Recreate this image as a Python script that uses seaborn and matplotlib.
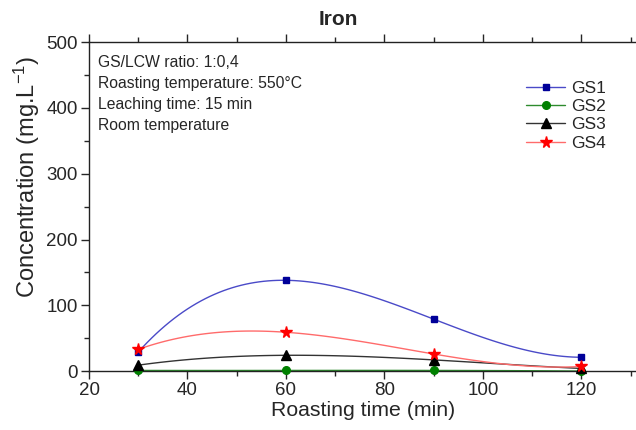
import matplotlib
matplotlib.use("Agg")
import matplotlib.pyplot as plt
import seaborn as sns
import pandas as pd
from matplotlib.lines import Line2D
from matplotlib.ticker import MultipleLocator

# -------------------------------
# Data
# -------------------------------
roasting_time = [30, 60, 90, 120]
gs1 = [29, 138, 79, 21]
gs2 = [1, 1, 1, 0]
gs3 = [9, 24, 17, 4]
gs4 = [33, 59, 26, 7]

series_names = ["GS1", "GS2", "GS3", "GS4"]
series_values = [gs1, gs2, gs3, gs4]

notes = [
    "GS/LCW ratio: 1:0,4",
    "Roasting temperature: 550°C",
    "Leaching time: 15 min",
    "Room temperature",
]

# -------------------------------
# Styles
# -------------------------------
marker_colors = ["#000099", "#008000", "#000000", "#ff0000"]
line_colors = ["#4a4ac8", "#2e8b2e", "#333333", "#ff6b6b"]
markers = ["s", "o", "^", "*"]
marker_sizes = [5, 5.5, 6.5, 8.5]

sns.set_style("ticks")
plt.rcParams["font.family"] = ["Liberation Sans", "DejaVu Sans"]
plt.rcParams["mathtext.default"] = "regular"

fig = plt.figure(figsize=(6.36, 4.3), dpi=100)
ax = fig.add_axes([0.14, 0.137, 0.863, 0.765])

for name, vals, mc, lc, mk, ms in zip(series_names, series_values,
                                      marker_colors, line_colors,
                                      markers, marker_sizes):
    df = pd.DataFrame({"time": roasting_time, "conc": vals})
    # smooth curve through the measurements
    sns.regplot(data=df, x="time", y="conc", order=3, ci=None,
                scatter=False, ax=ax,
                line_kws={"color": lc, "lw": 1.0})
    # measured points
    ax.plot(df["time"], df["conc"], linestyle="none", marker=mk,
            color=mc, markersize=ms, zorder=5, clip_on=False)

# -------------------------------
# Axes
# -------------------------------
ax.set_xlim(20, 131.5)
ax.set_ylim(0, 500)
ax.xaxis.set_major_locator(MultipleLocator(20))
ax.xaxis.set_minor_locator(MultipleLocator(10))
ax.yaxis.set_major_locator(MultipleLocator(100))
ax.yaxis.set_minor_locator(MultipleLocator(50))

ax.tick_params(axis="both", which="major", labelsize=13.5, length=6,
               width=1, direction="out", top=True, right=True, pad=2)
ax.tick_params(axis="both", which="minor", length=3.5, width=1,
               direction="out", top=True, right=True)

for sp in ax.spines.values():
    sp.set_linewidth(1.0)
    sp.set_color("#222222")

ax.set_xlabel("Roasting time (min)", fontsize=15.3, labelpad=1)
ax.set_ylabel("Concentration (mg.L$^{-1}$)", fontsize=17)
ax.yaxis.set_label_coords(-0.086, 0.59)
ax.set_title("Iron", fontsize=15, fontweight="bold", pad=12, x=0.455)

# -------------------------------
# Annotation text
# -------------------------------
for i, line in enumerate(notes):
    ax.text(0.016, 0.96 - i * 0.064, line, transform=ax.transAxes,
            fontsize=11.3, va="top", ha="left")

# -------------------------------
# Legend
# -------------------------------
handles = [
    Line2D([0], [0], color=lc, lw=1.0, marker=mk, markerfacecolor=mc,
           markeredgecolor=mc, markersize=ms)
    for mc, lc, mk, ms in zip(marker_colors, line_colors, markers, marker_sizes)
]
ax.legend(handles, series_names, loc="upper left",
          bbox_to_anchor=(0.77, 0.925), frameon=False, fontsize=12.5,
          handlelength=2.3, labelspacing=0.18, handletextpad=0.3,
          borderpad=0.3)

fig.savefig("out.png", dpi=100)
plt.close(fig)
